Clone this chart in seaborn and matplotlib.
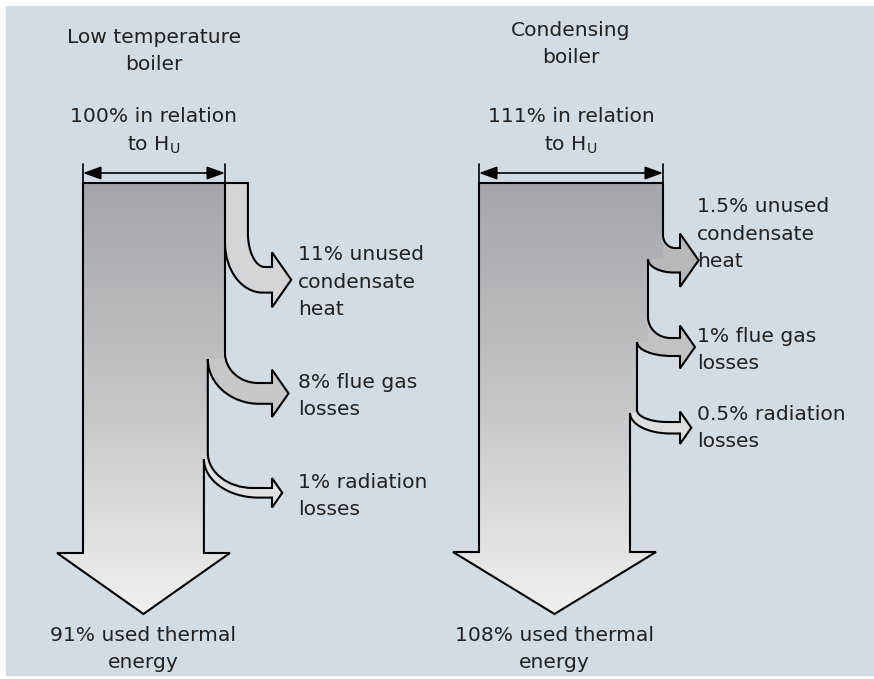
import matplotlib
matplotlib.use("Agg")
import numpy as np
import matplotlib.pyplot as plt
import seaborn as sns
from matplotlib.path import Path
from matplotlib.patches import PathPatch, Rectangle
from matplotlib.colors import LinearSegmentedColormap

# %% data
boiler_names = ["Low temperature\nboiler", "Condensing\nboiler"]
input_pct = [100, 111]
loss_names = ["unused\ncondensate\nheat", "flue gas\nlosses", "radiation\nlosses"]
low_temp_losses = [11, 8, 1]
condensing_losses = [1.5, 1, 0.5]
used_heat = [91, 108]

# %% layout (pixels, y downwards)
layouts = [
    dict(x0=83, top=183, dim_w=142, base_x=272,
         turn=[233, 353, 453], shaft=[267, 383, 488], cusp=[243, 359, 459],
         wscale=(2, 1.9), hscale=(8, 1.6), head_y=553, tip_drop=61,
         label_x=298, label_y=[282, 396, 496],
         title_y=51, colors=['#d4d5d7', '#c6c7c9', '#e0e1e3']),
    dict(x0=479, top=183, dim_w=184, base_x=680,
         turn=[235, 317, 410], shaft=[248, 338, 422], cusp=[259, 342, 413],
         wscale=(3, 8), hscale=(5, 13), head_y=552, tip_drop=62,
         label_x=697, label_y=[234, 350, 428],
         title_y=44, colors=['#b7b8ba', '#c1c2c4', '#dedfe1']),
]
all_losses = [low_temp_losses, condensing_losses]

sns.set_theme(style="white")
plt.rcParams['font.family'] = ['DejaVu Sans']
FS = 14.6
LS = 1.55
TXT = '#222222'

fig = plt.figure(figsize=(8.74, 6.79), dpi=100)
ax = fig.add_axes([0, 0, 1, 1])
ax.set_xlim(0, 874)
ax.set_ylim(679, 0)
ax.axis('off')
ax.add_patch(Rectangle((6, 6), 868, 669, color='#d3dce2', zorder=0))

cmap = LinearSegmentedColormap.from_list('g', ['#a5a6a9', '#c4c5c7', '#f0f0f0'])


def qcurve(p0, p1, vert_first):
    # quarter-ellipse like cubic from p0 to p1
    (x0, y0), (x1, y1) = p0, p1
    k = 0.55
    if vert_first:
        return [(x0, y0 + k * (y1 - y0)), (x1 - k * (x1 - x0), y1), (x1, y1)]
    return [(x0 + k * (x1 - x0), y0), (x1, y1 - k * (y1 - y0)), (x1, y1)]


for i in range(2):
    L = layouts[i]
    losses = all_losses[i]
    x0, top = L['x0'], L['top']
    extra = sum(losses) + used_heat[i] - input_pct[i]
    xcur = x0 + L['dim_w']
    verts, codes = [(x0, top)], [Path.MOVETO]
    streams = []
    first = True
    for j, v in enumerate(losses):
        w = L['wscale'][0] + L['wscale'][1] * v
        h = L['hscale'][0] + L['hscale'][1] * v
        flare = 7 + 0.3 * h
        plen = 0.35 * (h + 2 * flare)
        outside = extra > 0
        extra -= v
        if outside:
            xo, xi = xcur + w, xcur
        else:
            xo, xi = xcur, xcur - w
        if first:
            verts.append((xo, top)); codes.append(Path.LINETO)
            first = False
        bx = L['base_x']
        yt, yb = L['shaft'][j], L['shaft'][j] + h
        yturn, ycusp = L['turn'][j], L['cusp'][j]
        xoh = xo + 0.7 * (bx - xo)
        xih = xi + 0.8 * (bx - xi)
        sv = [(xo, yturn)]
        sc = [Path.LINETO]
        sv += qcurve((xo, yturn), (xoh, yt), True); sc += [Path.CURVE4] * 3
        sv += [(bx, yt), (bx, yt - flare), (bx + plen, (yt + yb) / 2),
               (bx, yb + flare), (bx, yb), (xih, yb)]
        sc += [Path.LINETO] * 6
        sv += qcurve((xih, yb), (xi, ycusp), False); sc += [Path.CURVE4] * 3
        verts += sv; codes += sc
        if outside:
            fv = [(xi, top), (xo, top)] + sv
            fc = [Path.MOVETO, Path.LINETO] + sc + [Path.CLOSEPOLY]
        else:
            fv = sv + [(xo, ycusp)]
            fc = [Path.MOVETO] + sc[1:] + [Path.LINETO, Path.CLOSEPOLY]
        streams.append((fv + [fv[0]], fc, outside, xi, ycusp))
        xcur = xi
    hy, ext = L['head_y'], 26
    tipx = (x0 + xcur) / 2
    verts += [(xcur, hy), (xcur + ext, hy), (tipx, hy + L['tip_drop']),
              (x0 - ext, hy), (x0, hy), (x0, top)]
    codes += [Path.LINETO] * 5 + [Path.CLOSEPOLY]
    outline = Path(verts, codes)

    # gradient fill of the whole flow
    clip = PathPatch(outline, facecolor='none', edgecolor='none', transform=ax.transData)
    ax.add_patch(clip)
    grad = np.linspace(0, 1, 256).reshape(-1, 1)
    im = ax.imshow(grad, cmap=cmap, aspect='auto', origin='upper',
                   extent=(x0 - 40, L['base_x'] + 40, hy + L['tip_drop'], top),
                   zorder=1)
    im.set_clip_path(clip)

    # loss stream fills
    for j, (fv, fc, outside, xi, ycusp) in enumerate(streams):
        ax.add_patch(PathPatch(Path(fv, fc), facecolor=L['colors'][j],
                               edgecolor='none', zorder=2))
        if outside:
            ax.plot([xi, xi], [top, ycusp], color='black', lw=1.5, zorder=3,
                    solid_capstyle='butt')

    ax.add_patch(PathPatch(outline, facecolor='none', edgecolor='black', lw=1.5,
                           joinstyle='miter', zorder=4))

    # dimension arrow
    xr = x0 + L['dim_w']
    for xx in (x0, xr):
        ax.plot([xx, xx], [164, top], color='black', lw=1.2, zorder=4)
    ax.annotate('', xy=(xr, 173), xytext=(x0, 173),
                arrowprops=dict(arrowstyle='<|-|>,head_length=0.55,head_width=0.2',
                                mutation_scale=20, lw=1.2, color='black',
                                shrinkA=0, shrinkB=0), zorder=4)

    cx = x0 + L['dim_w'] / 2
    ax.text(cx, L['title_y'], boiler_names[i], ha='center', va='center',
            fontsize=FS, color=TXT, linespacing=LS)
    ax.text(cx, 116, f"{input_pct[i]}% in relation", ha='center', va='center',
            fontsize=FS, color=TXT)
    ax.text(cx, 145, r"to H$_\mathregular{U}$", ha='center', va='center',
            fontsize=FS, color=TXT)

    for j, v in enumerate(losses):
        ax.text(L['label_x'], L['label_y'][j], f"{v:g}% {loss_names[j]}",
                ha='left', va='center', fontsize=FS, color=TXT, linespacing=LS)

    ax.text(tipx, 649, f"{used_heat[i]}% used thermal\nenergy", ha='center',
            va='center', fontsize=FS, color=TXT, linespacing=LS)

ax.set_xlim(0, 874)
ax.set_ylim(679, 0)
fig.savefig("out.png", dpi=100)
